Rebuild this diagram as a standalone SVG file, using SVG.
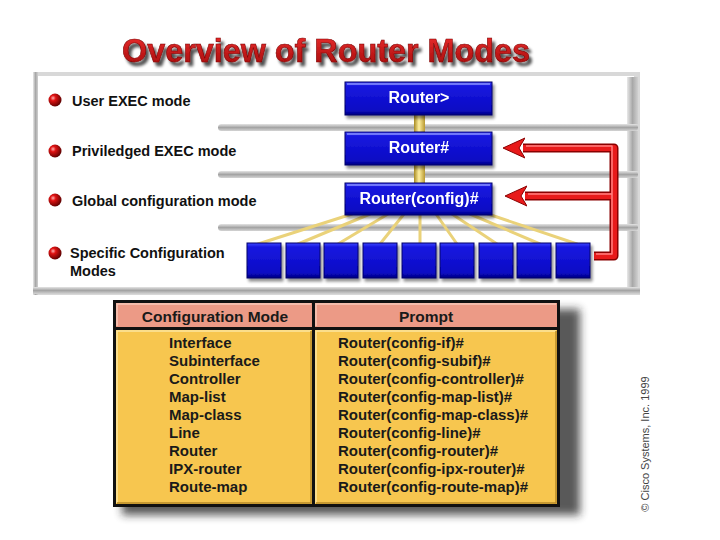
<svg xmlns="http://www.w3.org/2000/svg" width="720" height="540" viewBox="0 0 720 540">
<defs>
<style>
.lbl{font-family:"Liberation Sans",Arial,sans-serif;font-weight:bold;font-size:14.5px;fill:#111}
.btxt{font-family:"Liberation Sans",Arial,sans-serif;font-weight:bold;font-size:16px;fill:#fff;text-anchor:middle}
.cell{font-family:"Liberation Sans",Arial,sans-serif;font-weight:bold;font-size:15px;fill:#1a1a1a}
.hdr{font-family:"Liberation Sans",Arial,sans-serif;font-weight:bold;font-size:15.5px;fill:#1a1a1a;text-anchor:middle}
.fan{stroke:#ead27a;stroke-width:3;stroke-linecap:round}
.redd{fill:none;stroke:#8a0000;stroke-width:9;stroke-linejoin:round}
.red{fill:none;stroke:#e81a1a;stroke-width:6;stroke-linejoin:round}
.redh{fill:none;stroke:#ff8080;stroke-width:1.5;stroke-linejoin:round}
.bbox{fill:url(#blue);stroke:#00006a;stroke-width:1}
.hl{stroke:#8890ff;stroke-width:1.5}
.bar{fill:url(#bar)}
.vbar{fill:url(#vbar)}
.ball{fill:url(#ball)}
.gold{fill:url(#gold)}
</style>
<linearGradient id="blue" x1="0" y1="0" x2="0" y2="1">
<stop offset="0" stop-color="#3a44ff"/>
<stop offset="0.12" stop-color="#1818e0"/>
<stop offset="0.85" stop-color="#0a0ac4"/>
<stop offset="1" stop-color="#000080"/>
</linearGradient>
<linearGradient id="gold" x1="0" y1="0" x2="1" y2="0">
<stop offset="0" stop-color="#a88a20"/>
<stop offset="0.45" stop-color="#fff0a0"/>
<stop offset="1" stop-color="#b89830"/>
</linearGradient>
<linearGradient id="bar" x1="0" y1="0" x2="0" y2="1">
<stop offset="0" stop-color="#e4e4e4"/>
<stop offset="0.5" stop-color="#a4a4a4"/>
<stop offset="1" stop-color="#d4d4d4"/>
</linearGradient>
<linearGradient id="vbar" x1="0" y1="0" x2="1" y2="0">
<stop offset="0" stop-color="#e8e8e8"/>
<stop offset="0.5" stop-color="#a8a8a8"/>
<stop offset="1" stop-color="#d0d0d0"/>
</linearGradient>
<linearGradient id="tred" x1="0" y1="0" x2="0" y2="1">
<stop offset="0" stop-color="#f03030"/>
<stop offset="1" stop-color="#a00808"/>
</linearGradient>
<radialGradient id="ball" cx="0.35" cy="0.35" r="0.7">
<stop offset="0" stop-color="#ffb0b0"/>
<stop offset="0.3" stop-color="#e01212"/>
<stop offset="1" stop-color="#580000"/>
</radialGradient>
<filter id="sh" x="-20%" y="-20%" width="160%" height="160%">
<feGaussianBlur in="SourceAlpha" stdDeviation="1.5"/>
<feOffset dx="2" dy="3"/>
<feComponentTransfer><feFuncA type="linear" slope="0.45"/></feComponentTransfer>
<feMerge><feMergeNode/><feMergeNode in="SourceGraphic"/></feMerge>
</filter>
<filter id="tsh" x="-5%" y="-30%" width="115%" height="170%">
<feGaussianBlur in="SourceAlpha" stdDeviation="1.8"/>
<feOffset dx="3" dy="4"/>
<feComponentTransfer><feFuncA type="linear" slope="0.7"/></feComponentTransfer>
<feMerge><feMergeNode/><feMergeNode in="SourceGraphic"/></feMerge>
</filter>
<filter id="blur" x="-10%" y="-10%" width="120%" height="130%">
<feGaussianBlur stdDeviation="4"/>
</filter>
<marker id="ah" markerUnits="userSpaceOnUse" markerWidth="24" markerHeight="24" viewBox="0 0 24 24" refX="2" refY="12" orient="auto">
<path d="M0,2 L22,12 L0,22 L6,12 z" fill="#e81a1a" stroke="#8a0000" stroke-width="1"/>
</marker>
</defs>

<rect width="720" height="540" fill="#ffffff"/>

<g id="title" filter="url(#tsh)">
<text x="122" y="62" font-family="Liberation Sans,Arial,sans-serif" font-weight="bold" font-size="33" textLength="408" lengthAdjust="spacingAndGlyphs" fill="url(#tred)" stroke="#7a0000" stroke-width="0.6">Overview of Router Modes</text>
</g>

<g id="panel">
<rect x="33" y="72" width="607" height="223" fill="#d8d8d8"/>
<rect x="38" y="76" width="596" height="212" fill="#ffffff"/>
<rect x="33" y="72" width="5" height="223" class="vbar"/>
<rect x="218" y="124" width="420" height="7" rx="3.5" class="bar"/>
<rect x="218" y="171" width="420" height="7" rx="3.5" class="bar"/>
<rect x="218" y="224" width="420" height="7" rx="3.5" class="bar"/>
<rect x="33" y="287" width="607" height="7" class="bar"/>
<rect x="627" y="77" width="11" height="47" class="vbar"/>
<rect x="627" y="131" width="11" height="40" class="vbar"/>
<rect x="627" y="178" width="11" height="46" class="vbar"/>
<rect x="627" y="231" width="11" height="56" class="vbar"/>
</g>

<g id="labels">
<circle cx="55" cy="100" r="6.5" class="ball"/>
<text x="72" y="106" class="lbl">User EXEC mode</text>
<circle cx="55" cy="151" r="6.5" class="ball"/>
<text x="72" y="156" class="lbl">Priviledged EXEC mode</text>
<circle cx="55" cy="200" r="6.5" class="ball"/>
<text x="72" y="206" class="lbl">Global configuration mode</text>
<circle cx="55" cy="253" r="6.5" class="ball"/>
<text x="70" y="258" class="lbl">Specific Configuration</text>
<text x="70" y="276" class="lbl">Modes</text>
</g>

<g id="connectors">
<rect x="414" y="114" width="11" height="19" class="gold"/>
<rect x="414" y="164" width="11" height="20" class="gold"/>
<line x1="352" y1="214" x2="258" y2="244" class="fan"/>
<line x1="370" y1="214" x2="298" y2="244" class="fan"/>
<line x1="388" y1="214" x2="338" y2="244" class="fan"/>
<line x1="404" y1="214" x2="380" y2="244" class="fan"/>
<line x1="420" y1="214" x2="420" y2="244" class="fan"/>
<line x1="436" y1="214" x2="457" y2="244" class="fan"/>
<line x1="452" y1="214" x2="497" y2="244" class="fan"/>
<line x1="470" y1="214" x2="540" y2="244" class="fan"/>
<line x1="488" y1="214" x2="577" y2="244" class="fan"/>
<path d="M594 256 H614 V148 H523" class="redd"/>
<path d="M614 196 H525" class="redd"/>
<path d="M594 256 H614 V148 H523" class="red" marker-end="url(#ah)"/>
<path d="M614 196 H525" class="red" marker-end="url(#ah)"/>
<path d="M596 254 H612 V146 H526 M612 194 H528" class="redh"/>
</g>

<g id="user-exec" filter="url(#sh)">
<rect x="345" y="82" width="147" height="33" class="bbox"/>
<line x1="347" y1="84" x2="490" y2="84" class="hl"/>
<text x="419" y="103" class="btxt">Router&gt;</text>
</g>
<g id="priv-exec" filter="url(#sh)">
<rect x="345" y="132" width="147" height="33" class="bbox"/>
<line x1="347" y1="134" x2="490" y2="134" class="hl"/>
<text x="419" y="153" class="btxt">Router#</text>
</g>
<g id="global-config" filter="url(#sh)">
<rect x="345" y="183" width="147" height="32" class="bbox"/>
<line x1="347" y1="185" x2="490" y2="185" class="hl"/>
<text x="419" y="204" class="btxt">Router(config)#</text>
</g>

<g id="specific-modes" filter="url(#sh)">
<rect x="247" y="243" width="34" height="35" class="bbox"/>
<rect x="286" y="243" width="34" height="35" class="bbox"/>
<rect x="324" y="243" width="34" height="35" class="bbox"/>
<rect x="363" y="243" width="34" height="35" class="bbox"/>
<rect x="402" y="243" width="34" height="35" class="bbox"/>
<rect x="440" y="243" width="34" height="35" class="bbox"/>
<rect x="479" y="243" width="34" height="35" class="bbox"/>
<rect x="517" y="243" width="34" height="35" class="bbox"/>
<rect x="556" y="243" width="34" height="35" class="bbox"/>
</g>

<g id="table">
<rect x="122" y="309" width="458" height="206" fill="#222" opacity="0.75" filter="url(#blur)"/>
<rect x="113" y="300" width="447" height="207" fill="#111"/>
<rect x="116" y="303" width="196" height="24" fill="#ec9a86"/>
<rect x="315" y="303" width="242" height="24" fill="#ec9a86"/>
<rect x="116" y="330" width="196" height="174" fill="#f7c64f"/>
<rect x="315" y="330" width="242" height="174" fill="#f7c64f"/>
<path d="M117 326 V304 H311 M316 326 V304 H556" fill="none" stroke="#f8c8b8" stroke-width="1.5"/>
<path d="M117 503 V331 H311 M316 503 V331 H556" fill="none" stroke="#fde6a0" stroke-width="1.5"/>
<path d="M117 503 H311 V331 M316 503 H556 V331" fill="none" stroke="#b88a28" stroke-width="1.5"/>
<text x="215" y="322" class="hdr">Configuration Mode</text>
<text x="426" y="322" class="hdr">Prompt</text>
<text x="169" y="348" class="cell">Interface</text>
<text x="169" y="366" class="cell">Subinterface</text>
<text x="169" y="384" class="cell">Controller</text>
<text x="169" y="402" class="cell">Map-list</text>
<text x="169" y="420" class="cell">Map-class</text>
<text x="169" y="438" class="cell">Line</text>
<text x="169" y="456" class="cell">Router</text>
<text x="169" y="474" class="cell">IPX-router</text>
<text x="169" y="492" class="cell">Route-map</text>
<text x="338" y="348" class="cell">Router(config-if)#</text>
<text x="338" y="366" class="cell">Router(config-subif)#</text>
<text x="338" y="384" class="cell">Router(config-controller)#</text>
<text x="338" y="402" class="cell">Router(config-map-list)#</text>
<text x="338" y="420" class="cell">Router(config-map-class)#</text>
<text x="338" y="438" class="cell">Router(config-line)#</text>
<text x="338" y="456" class="cell">Router(config-router)#</text>
<text x="338" y="474" class="cell">Router(config-ipx-router)#</text>
<text x="338" y="492" class="cell">Router(config-route-map)#</text>
</g>

<g id="copyright">
<text x="649" y="444" transform="rotate(-90 649 444)" text-anchor="middle" font-family="Liberation Sans,Arial,sans-serif" font-size="11" fill="#444">© Cisco Systems, Inc. 1999</text>
</g>
</svg>
